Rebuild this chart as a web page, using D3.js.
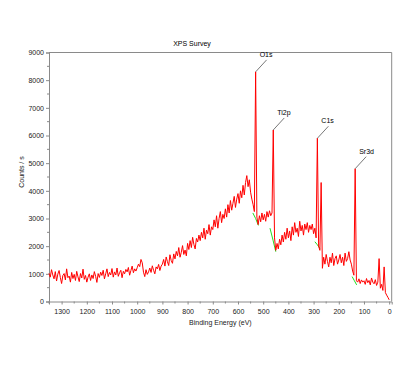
<!DOCTYPE html>
<html>
<head>
<meta charset="utf-8">
<script src="https://cdn.jsdelivr.net/npm/d3@7"></script>
<style>
  body { margin: 0; background: #fff; }
  svg { display: block; font-family: "Liberation Sans", Arial, sans-serif; }
</style>
</head>
<body>
<div id="chart"></div>
<script>
const width = 400;
const height = 378;
const margin = { top: 52.5, right: 8.3, bottom: 76.5, left: 49 };

// spectrum, one count value every 5 eV from 1350 eV down to 0 eV
const energyStart = 1350;
const energyStep = 5;
const counts = [
  1020, 880, 1150, 960, 820, 1080, 740, 990, 1120, 870,     // 1350-1305
  650, 940, 1010, 780, 1180, 860, 920, 700, 1050, 830,      // 1300-1255
  980, 760, 1090, 890, 720, 1010, 850, 1170, 800, 940,      // 1250-1205
  700, 880, 1000, 760, 960, 830, 1080, 910, 690, 1010,      // 1200-1155
  870, 1060, 940, 1130, 820, 1000, 1180, 900, 1050, 960,    // 1150-1105
  1190, 880, 1070, 960, 1210, 910, 1040, 1130, 860, 1090,   // 1100-1055
  1000, 1160, 1070, 1230, 950, 1120, 1280, 1040, 1180, 1100, // 1050-1005
  1220, 1350, 1260, 1520, 1400, 1060, 900, 1150, 980, 1070, // 1000-955
  1210, 1050, 1290, 1130, 1000, 1250, 1180, 1340, 1120, 1280, // 950-905
  1350, 1520, 1280, 1610, 1440, 1300, 1690, 1480, 1380, 1720, // 900-855
  1540, 1810, 1650, 1950, 1600, 1780, 2020, 1700, 1860, 1650, // 850-805
  2100, 1880, 2200, 1950, 2320, 2060, 1900, 2280, 2150, 2400, // 800-755
  2200, 2500, 2300, 2650, 2250, 2580, 2450, 2780, 2400, 2700, // 750-705
  2600, 2950, 2700, 3100, 2650, 3000, 3250, 2850, 3150, 3000, // 700-655
  3350, 3050, 3500, 3200, 3650, 3300, 3550, 3800, 3400, 3700, // 650-605
  3900, 3550, 4000, 3750, 4200, 3850, 4300, 4550, 4150, 4400, // 600-555
  3950, 3700, 3500, 3250, 8300, 3050, 2780, 3100, 2880, 3200, // 550-505
  2950, 3150, 2900, 3250, 3050, 3280, 3100, 3200, 6200, 2300, // 500-455
  1850, 2100, 1900, 2250, 2050, 2400, 2150, 2500, 2250, 2650, // 450-405
  2300, 2550, 2200, 2700, 2400, 2850, 2500, 2650, 2350, 2900, // 400-355
  2550, 2750, 2400, 2800, 2600, 2850, 2500, 2750, 2600, 2800, // 350-305
  2450, 2650, 2300, 5900, 2000, 1850, 4300, 1200, 1600, 1350, // 300-255
  1700, 1450, 1250, 1600, 1400, 1750, 1300, 1550, 1650, 1350, // 250-205
  1500, 1700, 1400, 1600, 1300, 1750, 1450, 1550, 1800, 1500, // 200-155
  1350, 1100, 950, 4800, 750, 700, 820, 650, 780, 700,      // 150-105
  750, 620, 830, 680, 760, 600, 850, 700, 640, 790,         // 100-55
  580, 700, 1550, 480, 620, 400, 1250, 320, 230, 150,       // 50-5
  60                                                        // 0
];

// background lines drawn under the four main peaks
const bgEnergies = [[541, 530, 519], [473, 461, 450], [295, 285, 275], [147, 138, 129]];
const bgCounts = [[3200, 3000, 2750], [2650, 2220, 1800], [2160, 2050, 1920], [900, 750, 600]];

const peakNames = ["O1s", "Ti2p", "C1s", "Sr3d"];
const peakEnergies = [530, 460, 285, 135];
const peakCounts = [8300, 6200, 5900, 4800];

const xMajorTicks = [1300, 1200, 1100, 1000, 900, 800, 700, 600, 500, 400, 300, 200, 100, 0];
const xMinorTicks = [1350, 1250, 1150, 1050, 950, 850, 750, 650, 550, 450, 350, 250, 150, 50];
const yMajorTicks = [0, 1000, 2000, 3000, 4000, 5000, 6000, 7000, 8000, 9000];
const yMinorTicks = [500, 1500, 2500, 3500, 4500, 5500, 6500, 7500, 8500];

const axisColor = "#8a8a8a";
const textColor = "#222";

const spectrum = counts.map((c, i) => ({ e: energyStart - i * energyStep, c: c }));

const x = d3.scaleLinear()
  .domain([1350, -10])
  .range([margin.left, width - margin.right]);
const y = d3.scaleLinear()
  .domain([0, 9000])
  .range([height - margin.bottom, margin.top]);

const svg = d3.select("#chart")
  .append("svg")
  .attr("width", width)
  .attr("height", height);

svg.append("rect")
  .attr("width", width)
  .attr("height", height)
  .attr("fill", "#fff");

// frame top + right
svg.append("path")
  .attr("d", `M${x(1350)},${y(9000)}H${x(-10)}V${y(0)}`)
  .attr("fill", "none")
  .attr("stroke", axisColor)
  .attr("stroke-width", 1);

// axes
const xAxis = svg.append("g")
  .attr("transform", `translate(0,${y(0)})`)
  .call(d3.axisBottom(x).tickValues(xMajorTicks).tickSize(3).tickPadding(5).tickFormat(d3.format("d")));
xAxis.selectAll("line.minor")
  .data(xMinorTicks)
  .enter()
  .append("line")
  .attr("class", "minor")
  .attr("x1", d => x(d))
  .attr("x2", d => x(d))
  .attr("y1", 0)
  .attr("y2", 2)
  .attr("stroke", axisColor);

const yAxis = svg.append("g")
  .attr("transform", `translate(${x(1350)},0)`)
  .call(d3.axisLeft(y).tickValues(yMajorTicks).tickSize(3).tickPadding(2).tickFormat(d3.format("d")));
yAxis.selectAll("line.minor")
  .data(yMinorTicks)
  .enter()
  .append("line")
  .attr("class", "minor")
  .attr("x1", -2)
  .attr("x2", 0)
  .attr("y1", d => y(d))
  .attr("y2", d => y(d))
  .attr("stroke", axisColor);

[xAxis, yAxis].forEach(g => {
  g.select(".domain").attr("stroke", axisColor);
  g.selectAll(".tick line").attr("stroke", axisColor);
  g.selectAll(".tick text")
    .attr("fill", textColor)
    .style("font-size", "7px")
    .style("font-family", "'Liberation Sans', Arial, sans-serif");
});

// background under peaks (green)
const bgLine = d3.line()
  .x(d => x(d[0]))
  .y(d => y(d[1]));
bgEnergies.forEach((es, k) => {
  svg.append("path")
    .datum(es.map((e, j) => [e, bgCounts[k][j]]))
    .attr("d", bgLine)
    .attr("fill", "none")
    .attr("stroke", "#22dd22")
    .attr("stroke-width", 1);
});

// spectrum (red)
svg.append("path")
  .datum(spectrum)
  .attr("d", d3.line().x(d => x(d.e)).y(d => y(d.c)))
  .attr("fill", "none")
  .attr("stroke", "#ff0000")
  .attr("stroke-width", 1)
  .attr("stroke-linejoin", "round");

// peak labels with leader lines
peakNames.forEach((name, i) => {
  const px = x(peakEnergies[i]);
  const py = y(peakCounts[i]);
  svg.append("line")
    .attr("x1", px)
    .attr("y1", py)
    .attr("x2", px + 11)
    .attr("y2", py - 12)
    .attr("stroke", "#555")
    .attr("stroke-width", 0.8);
  svg.append("text")
    .attr("x", px + 4)
    .attr("y", py - 15)
    .attr("fill", "#000")
    .style("font-size", "7px")
    .text(name);
});

// titles
svg.append("text")
  .attr("x", 192)
  .attr("y", 46)
  .attr("text-anchor", "middle")
  .attr("fill", "#000")
  .style("font-size", "7px")
  .text("XPS Survey");

svg.append("text")
  .attr("x", (x.range()[0] + x.range()[1]) / 2)
  .attr("y", 325)
  .attr("text-anchor", "middle")
  .attr("fill", textColor)
  .style("font-size", "7px")
  .text("Binding Energy (eV)");

svg.append("text")
  .attr("transform", `translate(24,${(y.range()[0] + y.range()[1]) / 2 - 5}) rotate(-90)`)
  .attr("text-anchor", "middle")
  .attr("fill", textColor)
  .style("font-size", "7px")
  .text("Counts / s");
</script>
</body>
</html>
